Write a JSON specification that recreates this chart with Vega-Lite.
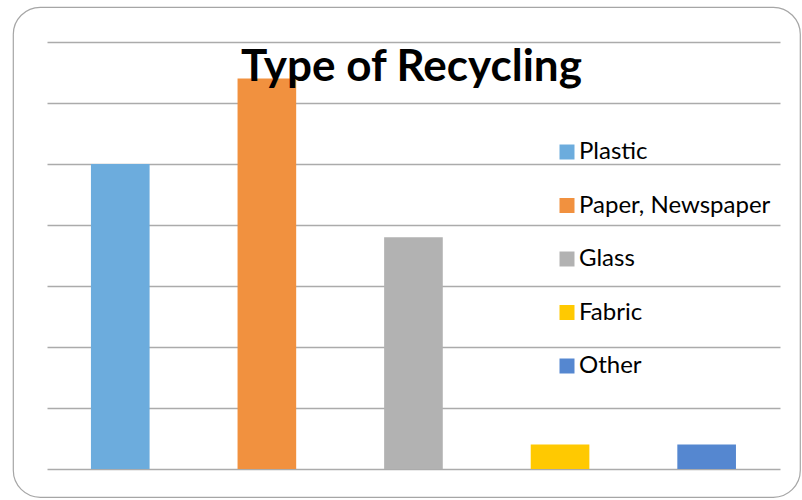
{
  "$schema": "https://vega.github.io/schema/vega-lite/v6.json",
  "width": 787,
  "height": 490,
  "autosize": "none",
  "padding": {"left": 13, "top": 7, "right": 2, "bottom": 3},
  "background": "white",
  "title": {
    "text": "Type of Recycling",
    "font": "Lato",
    "fontSize": 44,
    "fontWeight": "bold",
    "color": "#000000",
    "anchor": "middle",
    "frame": "group",
    "baseline": "alphabetic",
    "dx": 5,
    "dy": 118,
    "offset": 0
  },
  "data": {
    "values": [
      {"type": "Plastic", "value": 50},
      {"type": "Paper, Newspaper", "value": 64},
      {"type": "Glass", "value": 38},
      {"type": "Fabric", "value": 4},
      {"type": "Other", "value": 4}
    ]
  },
  "mark": {"type": "bar"},
  "encoding": {
    "x": {
      "field": "type",
      "type": "nominal",
      "sort": ["Plastic", "Paper, Newspaper", "Glass", "Fabric", "Other"],
      "scale": {"paddingInner": 0.6, "paddingOuter": 0.4843, "align": 0.549},
      "axis": null
    },
    "y": {
      "field": "value",
      "type": "quantitative",
      "scale": {"domain": [-4.59, 75.74], "nice": false, "zero": false},
      "axis": {
        "values": [0, 10, 20, 30, 40, 50, 60, 70],
        "offset": -34,
        "tickSize": -733,
        "tickColor": "#ababab",
        "tickWidth": 1.5,
        "labels": false,
        "domain": false,
        "grid": false,
        "title": null
      }
    },
    "y2": {"datum": 0},
    "color": {
      "field": "type",
      "type": "nominal",
      "sort": ["Plastic", "Paper, Newspaper", "Glass", "Fabric", "Other"],
      "scale": {
        "domain": ["Plastic", "Paper, Newspaper", "Glass", "Fabric", "Other"],
        "range": ["#6CACDD", "#F1913F", "#B2B2B2", "#FFC901", "#5587D0"]
      },
      "legend": {
        "title": null,
        "orient": "none",
        "legendX": 542,
        "legendY": 133,
        "padding": 0,
        "symbolType": "square",
        "symbolSize": 225,
        "symbolStrokeWidth": 0,
        "symbolOpacity": 1,
        "labelFont": "Lato",
        "labelFontSize": 24,
        "labelColor": "#000000",
        "labelOffset": 0,
        "rowPadding": 29.5,
        "labelLimit": 400
      }
    }
  },
  "config": {
    "view": {"stroke": "#a6a6a6", "strokeWidth": 1.2, "cornerRadius": 27}
  }
}
